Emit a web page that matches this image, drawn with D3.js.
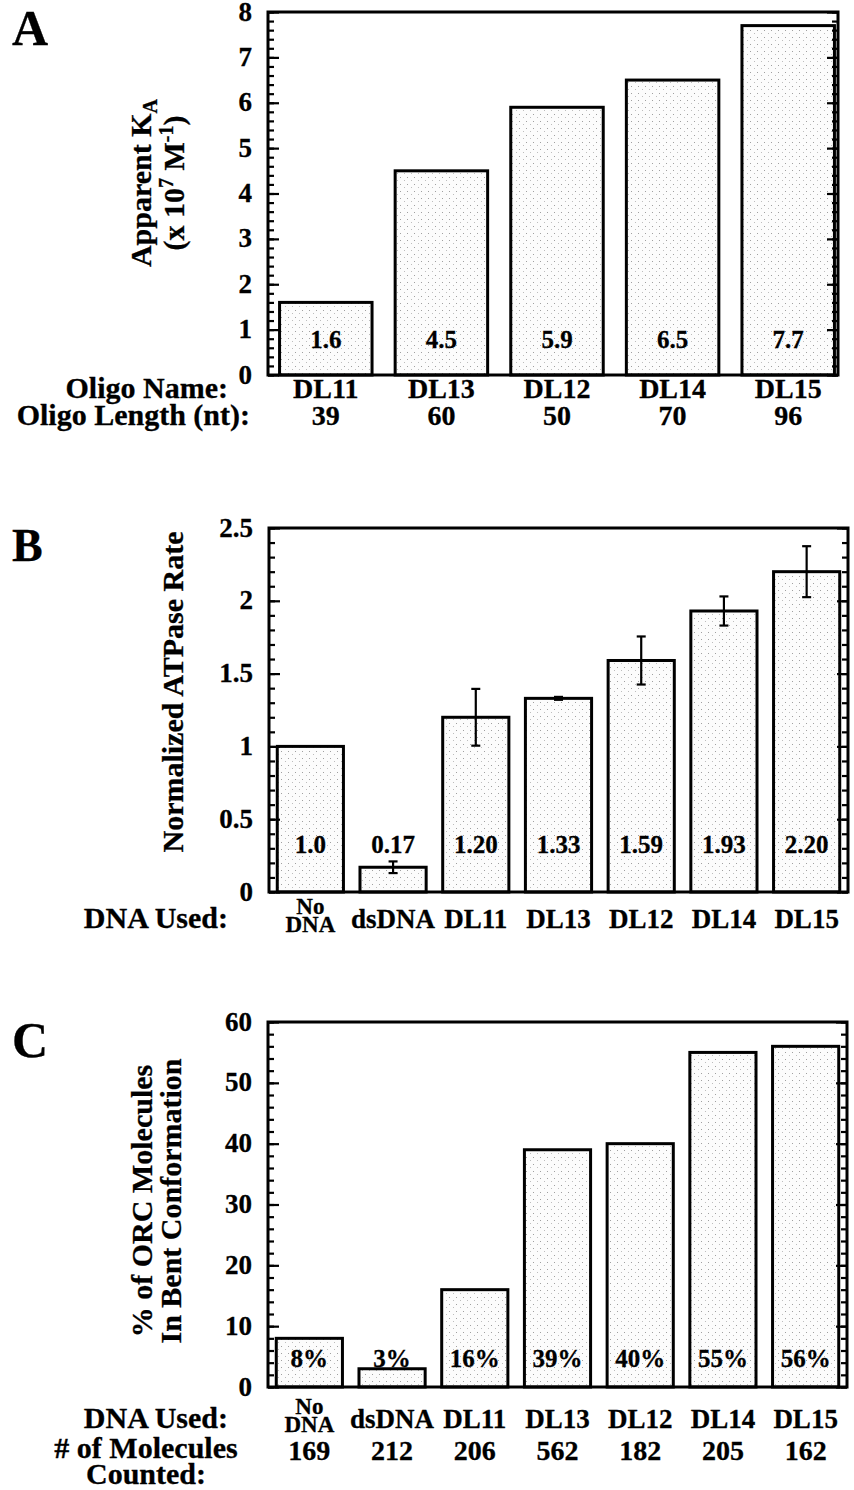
<!DOCTYPE html>
<html>
<head>
<meta charset="utf-8">
<script src="https://cdn.jsdelivr.net/npm/d3@7"></script>
<style>
  body { margin: 0; background: #fff; }
  svg text { font-family: "Liberation Serif", "Times New Roman", serif; font-weight: bold; fill: #000;
             stroke: #000; stroke-width: 0.3px; }
</style>
</head>
<body>
<div id="chart"></div>
<script>
// panel A
const oligoNames = ["DL11", "DL13", "DL12", "DL14", "DL15"];
const oligoLengths = [39, 60, 50, 70, 96];
const kaValues = [1.6, 4.5, 5.9, 6.5, 7.7];
const kaLabels = ["1.6", "4.5", "5.9", "6.5", "7.7"];

// panel B
const dnaUsed = ["No DNA", "dsDNA", "DL11", "DL13", "DL12", "DL14", "DL15"];
const atpaseRates = [1.0, 0.17, 1.20, 1.33, 1.59, 1.93, 2.20];
const atpaseErrors = [0, 0.04, 0.195, 0.01, 0.165, 0.10, 0.175];
const atpaseLabels = ["1.0", "0.17", "1.20", "1.33", "1.59", "1.93", "2.20"];

// panel C
const bentPercent = [8, 3, 16, 39, 40, 55, 56];
const bentLabels = ["8%", "3%", "16%", "39%", "40%", "55%", "56%"];
const moleculesCounted = [169, 212, 206, 562, 182, 205, 162];

const svg = d3.select("#chart").append("svg")
    .attr("width", 854)
    .attr("height", 1490);

// light stipple fill like the scanned bars
const defs = svg.append("defs");
const pat = defs.append("pattern")
    .attr("id", "stipple")
    .attr("patternUnits", "userSpaceOnUse")
    .attr("width", 7).attr("height", 7);
pat.append("rect").attr("width", 7).attr("height", 7).attr("fill", "#fcfcfc");
pat.append("rect").attr("x", 1).attr("y", 2).attr("width", 1).attr("height", 1).attr("fill", "#a0a0a0");
pat.append("rect").attr("x", 5).attr("y", 5).attr("width", 1).attr("height", 1).attr("fill", "#bdbdbd");

function drawPanel(cfg) {
    const g = svg.append("g");

    const x = d3.scaleBand()
        .domain(cfg.categories)
        .range(cfg.xRange)
        .paddingInner(0.2)
        .paddingOuter(0.1);

    const y = d3.scaleLinear()
        .domain([0, cfg.yMax])
        .range([cfg.bottom, cfg.top]);

    const majors = d3.range(0, cfg.yMax + 1e-9, cfg.major);
    const minors = d3.range(0, cfg.yMax + 1e-9, cfg.minor);

    // bars
    g.selectAll(".bar")
        .data(cfg.values)
        .join("rect")
        .attr("class", "bar")
        .attr("x", (d, i) => x(cfg.categories[i]))
        .attr("y", d => y(d))
        .attr("width", x.bandwidth())
        .attr("height", d => y(0) - y(d))
        .attr("fill", "url(#stipple)")
        .attr("stroke", "#000")
        .attr("stroke-width", 3);

    // error bars
    if (cfg.errors) {
        const eb = g.selectAll(".err")
            .data(cfg.values.map((v, i) => ({v, e: cfg.errors[i], c: cfg.categories[i]})).filter(d => d.e > 0))
            .join("g")
            .attr("class", "err")
            .attr("transform", d => `translate(${x(d.c) + x.bandwidth() / 2},0)`);
        eb.append("line")
            .attr("y1", d => y(d.v + d.e)).attr("y2", d => y(d.v - d.e))
            .attr("stroke", "#000").attr("stroke-width", 2.2);
        eb.append("line")
            .attr("x1", -4.5).attr("x2", 4.5)
            .attr("y1", d => y(d.v + d.e)).attr("y2", d => y(d.v + d.e))
            .attr("stroke", "#000").attr("stroke-width", 2.2);
        eb.append("line")
            .attr("x1", -4.5).attr("x2", 4.5)
            .attr("y1", d => y(d.v - d.e)).attr("y2", d => y(d.v - d.e))
            .attr("stroke", "#000").attr("stroke-width", 2.2);
    }

    // value labels near the bottom of each bar
    g.selectAll(".val")
        .data(cfg.labels)
        .join("text")
        .attr("class", "val")
        .attr("x", (d, i) => x(cfg.categories[i]) + x.bandwidth() / 2)
        .attr("y", y(0) - cfg.labelOffset)
        .attr("text-anchor", "middle")
        .style("font-size", "25px")
        .text(d => d);

    // frame
    g.append("rect")
        .attr("x", cfg.left).attr("y", cfg.top)
        .attr("width", cfg.right - cfg.left)
        .attr("height", cfg.bottom - cfg.top)
        .attr("fill", "none")
        .attr("stroke", "#000")
        .attr("stroke-width", 3);

    // inward ticks on both sides
    const tickSets = [
        {axis: d3.axisRight, xPos: cfg.left, vals: minors, size: 6},
        {axis: d3.axisRight, xPos: cfg.left, vals: majors, size: 11},
        {axis: d3.axisLeft, xPos: cfg.right, vals: minors, size: 6},
        {axis: d3.axisLeft, xPos: cfg.right, vals: majors, size: 11}
    ];
    tickSets.forEach(t => {
        const a = g.append("g")
            .attr("transform", `translate(${t.xPos},0)`)
            .call(t.axis(y).tickValues(t.vals).tickSize(t.size).tickFormat(""));
        a.select(".domain").remove();
        a.selectAll(".tick line").attr("stroke-width", 2.2);
    });

    // tick labels
    const lab = g.append("g")
        .attr("transform", `translate(${cfg.left},0)`)
        .call(d3.axisLeft(y).tickValues(majors).tickSize(0).tickPadding(16).tickFormat(d3.format("~g")));
    lab.select(".domain").remove();
    lab.attr("font-family", null).attr("font-size", null);
    lab.selectAll("text")
        .attr("dy", "0.3em")
        .attr("fill", null)
        .style("font-size", "27px");

    // panel letter
    g.append("text")
        .attr("x", 12).attr("y", cfg.letterY)
        .style("font-size", cfg.letterSize + "px")
        .text(cfg.letter);

    // y title (rotated)
    cfg.yTitle.forEach(line => {
        const t = g.append("text")
            .attr("transform", `translate(${line.x},${cfg.titleY}) rotate(-90)`)
            .attr("text-anchor", "middle")
            .style("font-size", "30px");
        line.parts.forEach(p => {
            const ts = t.append("tspan").text(p.t);
            if (p.sub) ts.attr("dy", 6).style("font-size", "20px");
            if (p.sup) ts.attr("dy", -11).style("font-size", "20px");
            if (p.reset) ts.attr("dy", p.reset);
        });
    });

    return {g, x, y};
}

// ---------- A ----------
const pA = drawPanel({
    categories: oligoNames, values: kaValues, labels: kaLabels,
    xRange: [268, 846], left: 268, right: 838, top: 12, bottom: 375,
    yMax: 8, major: 1, minor: 0.2, labelOffset: 27,
    letter: "A", letterY: 45, letterSize: 50, titleY: 183,
    yTitle: [
        {x: 151, parts: [{t: "Apparent K"}, {t: "A", sub: true}]},
        {x: 184, parts: [{t: "(x 10"}, {t: "7", sup: true}, {t: " M", reset: 11}, {t: "-1", sup: true}, {t: ")", reset: 11}]}
    ]
});
pA.g.append("text").attr("x", 228).attr("y", 398).attr("text-anchor", "end")
    .style("font-size", "30px").text("Oligo Name:");
pA.g.append("text").attr("x", 250).attr("y", 425).attr("text-anchor", "end")
    .style("font-size", "30px").text("Oligo Length (nt):");
pA.g.selectAll(".cat").data(oligoNames).join("text")
    .attr("x", d => pA.x(d) + pA.x.bandwidth() / 2).attr("y", 398)
    .attr("text-anchor", "middle").style("font-size", "28px").text(d => d);
pA.g.selectAll(".len").data(oligoLengths).join("text")
    .attr("x", (d, i) => pA.x(oligoNames[i]) + pA.x.bandwidth() / 2).attr("y", 425)
    .attr("text-anchor", "middle").style("font-size", "28px").text(d => d);

// category labels for B and C (No DNA is stacked)
function dnaLabels(p, baseY) {
    p.g.selectAll(".cat").data(dnaUsed).join("text")
        .attr("x", d => p.x(d) + p.x.bandwidth() / 2)
        .attr("y", baseY)
        .attr("text-anchor", "middle")
        .style("font-size", "27px")
        .each(function(d) {
            const t = d3.select(this);
            const words = d.split(" ");
            if (words.length === 2) {
                t.style("font-size", "23px");
                t.attr("y", baseY + 4);
                t.append("tspan").attr("x", t.attr("x")).attr("dy", -18).text(words[0]);
                t.append("tspan").attr("x", t.attr("x")).attr("dy", 18).text(words[1]);
            } else {
                t.text(d);
            }
        });
    p.g.append("text").attr("x", 228).attr("y", baseY).attr("text-anchor", "end")
        .style("font-size", "30px").text("DNA Used:");
}

// ---------- B ----------
const pB = drawPanel({
    categories: dnaUsed, values: atpaseRates, errors: atpaseErrors, labels: atpaseLabels,
    xRange: [269, 848], left: 269, right: 848, top: 528, bottom: 892,
    yMax: 2.5, major: 0.5, minor: 0.1, labelOffset: 39,
    letter: "B", letterY: 561, letterSize: 46, titleY: 692,
    yTitle: [{x: 183, parts: [{t: "Normalized ATPase Rate"}]}]
});
dnaLabels(pB, 928);

// ---------- C ----------
const pC = drawPanel({
    categories: dnaUsed, values: bentPercent, labels: bentLabels,
    xRange: [268, 847], left: 268, right: 847, top: 1022, bottom: 1387,
    yMax: 60, major: 10, minor: 2, labelOffset: 20,
    letter: "C", letterY: 1057, letterSize: 50, titleY: 1201,
    yTitle: [
        {x: 152, parts: [{t: "% of ORC Molecules"}]},
        {x: 181, parts: [{t: "In Bent Conformation"}]}
    ]
});
dnaLabels(pC, 1428);
pC.g.append("text").attr("x", 146).attr("y", 1458).attr("text-anchor", "middle")
    .style("font-size", "30px").text("# of Molecules");
pC.g.append("text").attr("x", 146).attr("y", 1484).attr("text-anchor", "middle")
    .style("font-size", "30px").text("Counted:");
pC.g.selectAll(".cnt").data(moleculesCounted).join("text")
    .attr("x", (d, i) => pC.x(dnaUsed[i]) + pC.x.bandwidth() / 2).attr("y", 1460)
    .attr("text-anchor", "middle").style("font-size", "28px").text(d => d);
</script>
</body>
</html>
